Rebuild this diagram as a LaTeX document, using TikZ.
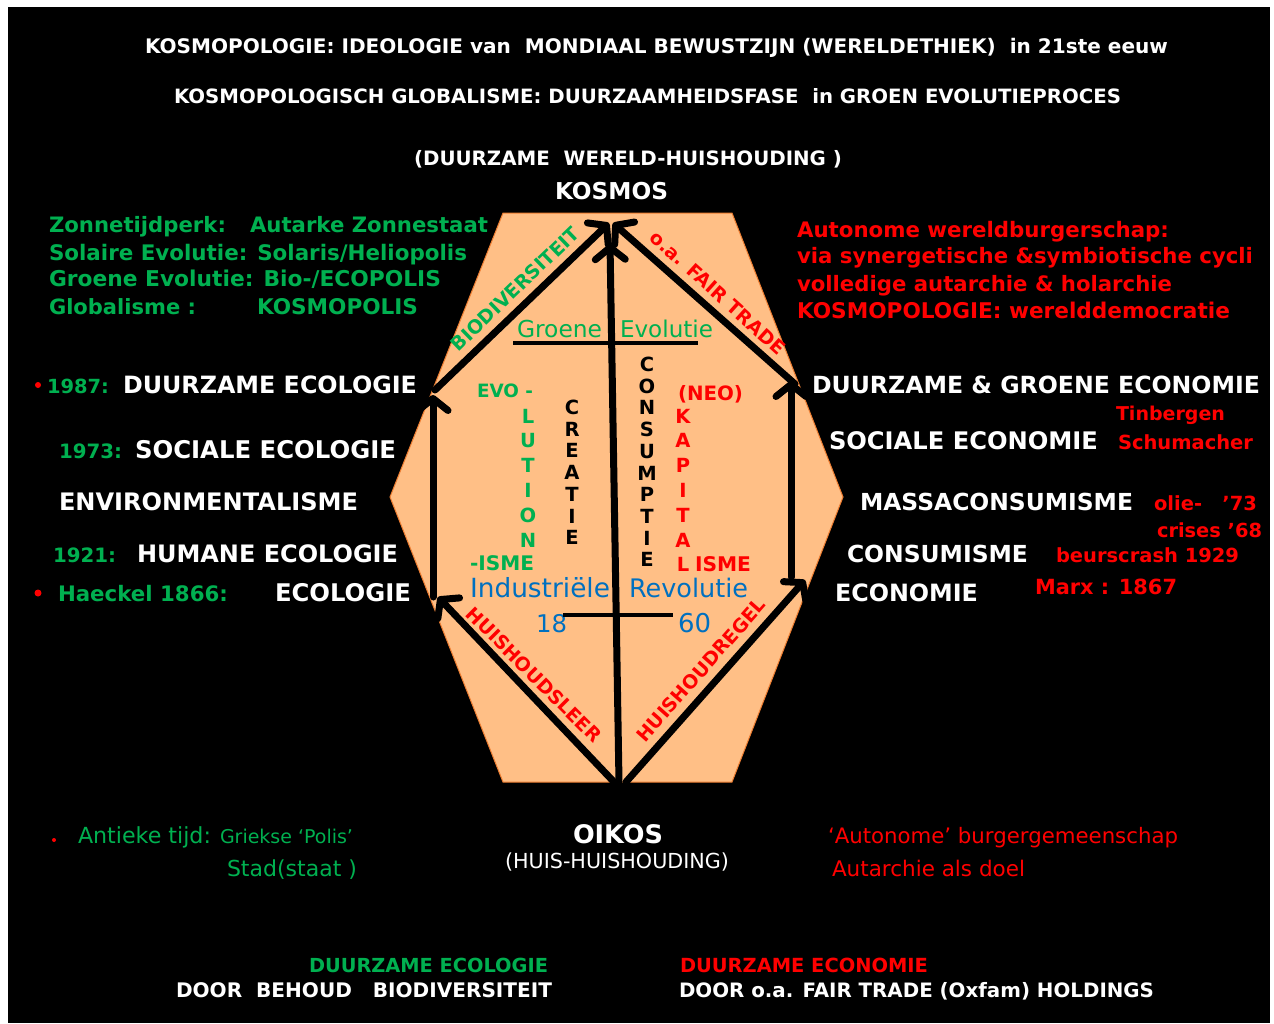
\documentclass[tikz,border=0pt]{standalone}
\usepackage{fontspec}
\setmainfont{DejaVu Sans}
\usetikzlibrary{arrows.meta}
\definecolor{gr}{HTML}{00B050}
\definecolor{rd}{HTML}{FF0000}
\definecolor{bl}{HTML}{0070C0}
\definecolor{peach}{RGB}{255,191,134}
\definecolor{peachline}{HTML}{ED7D31}
\newcommand\myfs[1]{\fontsize{#1}{#1}\selectfont}
\newcommand\fitw[2]{\resizebox{#1pt}{!}{#2}}
\begin{document}
\begin{tikzpicture}[x=1pt,y=-1pt,
  tx/.style={inner sep=0pt, outer sep=0pt, anchor=base west},
  wb/.style={tx, text=white, font=\myfs{20}\bfseries},
  gb/.style={tx, text=gr, font=\myfs{20}\bfseries},
  rb/.style={tx, text=rd, font=\myfs{20}\bfseries},
  gr/.style={tx, text=gr, font=\myfs{20}},
  rr/.style={tx, text=rd, font=\myfs{20}},
  wr/.style={tx, text=white, font=\myfs{20}},
  br/.style={tx, text=bl, font=\myfs{20}},
  stack/.style={inner sep=0pt, outer sep=0pt, anchor=base, font=\myfs{19.5}\bfseries},
  diag/.style={inner sep=0pt, outer sep=0pt, font=\myfs{19}\bfseries},
  arr/.style={line width=7pt, line cap=round, black, -{Straight Barb[round,length=12pt,width=30pt]}},
  bar/.style={line width=4pt, black},
  dot/.style={fill=rd, draw=none}
]
\useasboundingbox (0,0) rectangle (1274,1023);
\fill[white] (0,0) rectangle (1274,1023);
\fill[black] (8,7) rectangle (1270,1023);

% titles
\node[wb] (t1) at (145,53) {\fitw{1023}{KOSMOPOLOGIE: IDEOLOGIE van\ \ MONDIAAL BEWUSTZIJN (WERELDETHIEK)\ \ in 21ste eeuw}};
\node[wb] (t2) at (174,103) {\fitw{947}{KOSMOPOLOGISCH GLOBALISME: DUURZAAMHEIDSFASE\ \ in GROEN EVOLUTIEPROCES}};
\node[wb] (t3) at (414,165) {\fitw{428}{(DUURZAME\ \ WERELD-HUISHOUDING )}};
\node[wb] (kosmos) at (555,199) {\fitw{113}{KOSMOS}};

% hexagon
\filldraw[fill=peach, draw=peachline, line width=1pt]
  (503,213) -- (732,213) -- (843,497) -- (732,782) -- (503,782) -- (390,497) -- cycle;

% green block top-left
\node[gb] (z1a) at (49,232) {\fitw{177}{Zonnetijdperk:}};
\node[gb] (z1b) at (250,232) {\fitw{238}{Autarke Zonnestaat}};
\node[gb] (z2) at (49,260) {\fitw{418}{Solaire Evolutie: Solaris/Heliopolis}};
\node[gb] (z3) at (49,286) {\fitw{392}{Groene Evolutie: Bio-/ECOPOLIS}};
\node[gb] (z4a) at (49,314) {\fitw{147}{Globalisme :}};
\node[gb] (z4b) at (257,314) {\fitw{161}{KOSMOPOLIS}};

% red block top-right
\node[rb] (a1) at (797,237) {\fitw{372}{Autonome wereldburgerschap:}};
\node[rb] (a2) at (797,263) {\fitw{456}{via synergetische \&symbiotische cycli}};
\node[rb] (a3) at (797,291) {\fitw{375}{volledige autarchie \& holarchie}};
\node[rb] (a4) at (797,318) {\fitw{433}{KOSMOPOLOGIE: werelddemocratie}};

% left list
\fill[dot] (38,385) circle (3);
\node[gb] (y87) at (47,393) {\fitw{62}{1987:}};
\node[wb] (dec) at (123,393) {\fitw{294}{DUURZAME ECOLOGIE}};
\node[gb] (y73) at (59,458) {\fitw{63}{1973:}};
\node[wb] (sec) at (135,458) {\fitw{261}{SOCIALE ECOLOGIE}};
\node[wb] (env) at (59,510) {\fitw{299}{ENVIRONMENTALISME}};
\node[gb] (y21) at (53,562) {\fitw{63}{1921:}};
\node[wb] (hec) at (137,562) {\fitw{261}{HUMANE ECOLOGIE}};
\fill[dot] (38,593) circle (3.5);
\node[gb] (hae) at (58,601) {\fitw{170}{Haeckel 1866:}};
\node[wb] (eco) at (275,601) {\fitw{136}{ECOLOGIE}};

% right list
\node[wb] (dge) at (812,393) {\fitw{448}{DUURZAME \& GROENE ECONOMIE}};
\node[rb] (tin) at (1116,420) {\fitw{109}{Tinbergen}};
\node[wb] (soe) at (829,449) {\fitw{269}{SOCIALE ECONOMIE}};
\node[rb] (sch) at (1118,449) {\fitw{135}{Schumacher}};
\node[wb] (mas) at (860,510) {\fitw{273}{MASSACONSUMISME}};
\node[rb] (oli) at (1154,510) {\fitw{103}{olie-\ \ \ ’73}};
\node[rb] (cri) at (1157,537) {\fitw{105}{crises ’68}};
\node[wb] (con) at (847,562) {\fitw{181}{CONSUMISME}};
\node[rb] (beu) at (1056,562) {\fitw{183}{beurscrash 1929}};
\node[wb] (ecn) at (835,601) {\fitw{143}{ECONOMIE}};
\node[rb] (mar) at (1035,594) {\fitw{142}{Marx : 1867}};

% inside hexagon
\node[gr] (groene) at (517,337) {\fitw{85}{Groene}};
\node[gr] (evol) at (620,337) {\fitw{93}{Evolutie}};
\coordinate (gl) at (513,343);
\coordinate (grt) at (698,343);
\draw[bar] (gl) -- (grt);

\node[gb] (evo) at (477,397) {\fitw{56}{EVO -}};
\foreach \l/\y [count=\i] in {L/423,U/447.8,T/472.6,I/497.4,O/522.2,N/547}
  \node[stack, text=gr] (lut\i) at (528,\y) {\l};
\node[gb] (isme1) at (470,570) {\fitw{64}{-ISME}};

\foreach \l/\y [count=\i] in {C/414.5,R/436.2,E/457.9,A/479.6,T/501.3,I/523,E/544.7}
  \node[stack, text=black] (cre\i) at (572,\y) {\l};
\foreach \l/\y [count=\i] in {C/371.5,O/393.2,N/414.9,S/436.6,U/458.3,M/480,P/501.7,T/523.4,I/545.1,E/566.8}
  \node[stack, text=black] (cns\i) at (647,\y) {\l};

\node[rb] (neo) at (678,400) {\fitw{65}{(NEO)}};
\foreach \l/\y [count=\i] in {K/423,A/447.8,P/472.6,I/497.4,T/522.2,A/547,L/571.8}
  \node[stack, text=rd] (kap\i) at (683,\y) {\l};
\node[rb] (isme2) at (695,571.8) {\fitw{56}{ISME}};

\node[br] (ind) at (470,597) {\fitw{140}{Industriële}};
\node[br] (rev) at (629,597) {\fitw{119}{Revolutie}};
\node[br] (n18) at (536,632) {\fitw{31}{18}};
\node[br] (n60) at (678,632) {\fitw{33}{60}};
\coordinate (bl1) at (563,615);
\coordinate (bl2) at (673,615);
\draw[bar] (bl1) -- (bl2);

% arrow end points
\coordinate (kosC) at (610,244);
\coordinate (kosL) at (609,223);
\coordinate (kosR) at (613,223);
\coordinate (oikC) at (619,782);
\coordinate (oikL) at (614,782);
\coordinate (oikR) at (626,782);
\coordinate (ecoLB) at (438,597);
\coordinate (ecoLV) at (433,597);
\coordinate (ecoLT) at (433,395);
\coordinate (ecoLD) at (435,390);
\coordinate (ecoRB) at (805,580);
\coordinate (ecoRV) at (791,577);
\coordinate (ecoRT) at (791,381);
\coordinate (ecoRD) at (795,384);

\draw[arr] (oikC) -- (kosC);
\draw[arr] (ecoLD) -- (kosL);
\draw[arr] (ecoRD) -- (kosR);
\draw[arr] (ecoLV) -- (ecoLT);
\draw[arr] (ecoRV) -- (ecoRT);
\draw[arr] (oikL) -- (ecoLB);
\draw[arr] (oikR) -- (ecoRB);

% diagonal labels
\node[diag, text=gr, rotate=44] (biod) at (515,289) {BIODIVERSITEIT};
\node[diag, text=rd, rotate=-42] (fair) at (718,293) {o.a. FAIR TRADE};
\node[diag, text=rd, rotate=-45] (hleer) at (534,675) {HUISHOUDSLEER};
\node[diag, text=rd, rotate=48.5] (hregel) at (701,670) {HUISHOUDREGEL};

% bottom
\fill[dot] (54,840) circle (2);
\node[gr] (ant) at (78,843) {\fitw{133}{Antieke tijd:}};
\node[gr] (grk) at (220,843) {\fitw{133}{Griekse ‘Polis’}};
\node[gr] (stad) at (227,876) {\fitw{130}{Stad(staat )}};
\node[wb] (oikos) at (573,843) {\fitw{90}{OIKOS}};
\node[wr] (huis) at (505,868) {\fitw{224}{(HUIS-HUISHOUDING)}};
\node[rr] (aut) at (828,843) {\fitw{350}{‘Autonome’ burgergemeenschap}};
\node[rr] (autd) at (832,876) {\fitw{193}{Autarchie als doel}};

\node[gb] (dec2) at (309,972) {\fitw{239}{DUURZAME ECOLOGIE}};
\node[wb] (door1) at (176,997) {\fitw{376}{DOOR\ \ BEHOUD\ \ \ BIODIVERSITEIT}};
\node[rb] (den2) at (680,972) {\fitw{248}{DUURZAME ECONOMIE}};
\node[wb] (door2) at (679,997) {\fitw{475}{DOOR o.a. FAIR TRADE (Oxfam) HOLDINGS}};
\end{tikzpicture}
\end{document}
